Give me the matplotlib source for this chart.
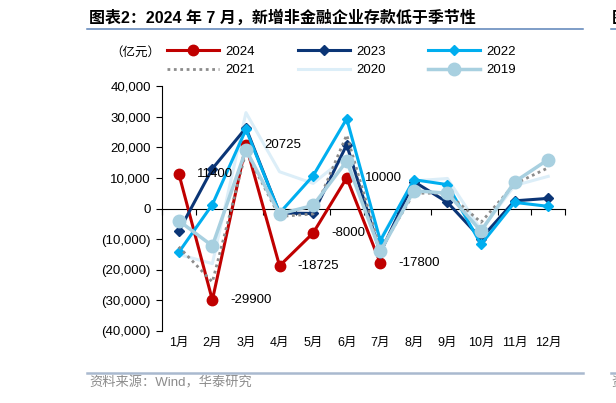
import matplotlib
matplotlib.use("Agg")
import matplotlib.pyplot as plt
import matplotlib.transforms as mtransforms
from matplotlib.lines import Line2D
from matplotlib.ticker import FuncFormatter, FixedLocator

plt.rcParams['font.family'] = ['Liberation Sans', 'Noto Sans CJK SC', 'DejaVu Sans']

months = ['1月', '2月', '3月', '4月', '5月', '6月', '7月', '8月', '9月', '10月', '11月', '12月']
y2024 = [11400, -29900, 20725, -18725, -8000, 10000, -17800]
y2023 = [-7400, 13000, 26300, -1500, -1600, 20800, -14500, 8800, 2000, -9800, 2500, 3300]
y2022 = [-14300, 1300, 25800, -1500, 10700, 29300, -10500, 9400, 7800, -11700, 2000, 700]
y2021 = [-12500, -24000, 18500, -2600, -1800, 24000, -13500, 5000, 5000, -4500, 8000, 13300]
y2020 = [-15000, -18000, 31300, 12000, 8200, 17000, -10000, 9000, 9800, -7000, 7500, 10500]
y2019 = [-4000, -12200, 19200, -1800, 1000, 15500, -14000, 5800, 5000, -7400, 8700, 16000]
labels2024 = ['11400', '-29900', '20725', '-18725', '-8000', '10000', '-17800']

W, H = 616, 403
fig = plt.figure(figsize=(W / 100, H / 100), dpi=100)
ax = fig.add_axes([162 / W, 1 - 331 / H, 403 / W, 245 / H])

x = list(range(1, 13))
lw = 2.2
ax.plot(x[:7], y2024, color='#c00000', lw=lw, marker='o', ms=7.5, zorder=3, label='2024')
ax.plot(x, y2023, color='#0b3576', lw=lw, marker='D', ms=5.5, zorder=3, label='2023')
ax.plot(x, y2022, color='#00aeef', lw=lw, marker='D', ms=5.5, zorder=3, label='2022')
ax.plot(x, y2021, color='#8c8c8c', lw=2, ls=(0, (1, 1.3)), zorder=3, label='2021')
ax.plot(x, y2020, color='#dceef8', lw=lw, zorder=2.5, label='2020')
ax.plot(x, y2019, color='#a8d0e0', lw=lw + 0.3, marker='o', ms=9, zorder=3, label='2019')

for xi, yi, txt in zip(x, y2024, labels2024):
    ax.annotate(txt, (xi, yi), xytext=(18, 0), textcoords='offset pixels',
                ha='left', va='center', fontsize=9.5, color='black', zorder=5)

ax.set_xlim(0.5, 12.5)
ax.set_ylim(-40000, 40000)
ax.set_yticks(range(-40000, 40001, 10000))
ax.yaxis.set_major_formatter(FuncFormatter(
    lambda v, p: '0' if v == 0 else ('({:,.0f})'.format(-v) if v < 0 else '{:,.0f}'.format(v))))
ax.tick_params(axis='y', direction='out', length=4, width=0.8, labelsize=9.5, pad=4)

ax.spines['top'].set_visible(False)
ax.spines['right'].set_visible(False)
ax.spines['bottom'].set_position(('data', 0))
ax.spines['left'].set_linewidth(0.8)
ax.spines['bottom'].set_linewidth(0.8)
ax.xaxis.set_major_locator(FixedLocator([i + 0.5 for i in range(0, 13)]))
ax.tick_params(axis='x', direction='out', length=4, width=0.8, labelbottom=False)

trans = mtransforms.blended_transform_factory(ax.transData, ax.transAxes)
for xi, m in zip(x, months):
    ax.text(xi, -0.047, m, transform=trans, ha='center', va='center', fontsize=9)

# legend
h = {l.get_label(): l for l in ax.get_lines()}
order = ['2024', '2021', '2023', '2020', '2022', '2019']
fig.legend([h[k] for k in order], order, ncol=3, frameon=False, fontsize=9.5,
           loc='upper left', bbox_to_anchor=(162 / W, 1 - 40 / H),
           handlelength=3.95, columnspacing=3.25, handletextpad=0.45, labelspacing=0.5,
           borderaxespad=0)
fig.text(110 / W, 1 - 53 / H, '（亿元）', fontsize=9, ha='left', va='center')

# title and frame decoration
fig.text(89 / W, 1 - 18 / H, '图表2：2024 年 7 月，新增非金融企业存款低于季节性',
         fontsize=11.5, fontweight='bold', ha='left', va='center')
fig.add_artist(Line2D([87 / W, 583 / W], [1 - 28.5 / H] * 2, color='#5b82b8', lw=1.1))
fig.add_artist(Line2D([611 / W, 1], [1 - 28.5 / H] * 2, color='#5b82b8', lw=1.1))
fig.text(612 / W, 1 - 18 / H, '图', fontsize=11.5, fontweight='bold', ha='left', va='center')
fig.add_artist(Line2D([87 / W, 583 / W], [1 - 373 / H] * 2, color='#a9b9cf', lw=1.8))
fig.add_artist(Line2D([611 / W, 1], [1 - 373 / H] * 2, color='#a9b9cf', lw=1.8))
fig.text(89 / W, 1 - 383 / H, '资料来源：Wind，华泰研究', fontsize=9.5, color='#8c8c8c',
         ha='left', va='center')
fig.text(611 / W, 1 - 383 / H, '资', fontsize=9.5, color='#8c8c8c', ha='left', va='center')

fig.savefig('out.png', dpi=100)
